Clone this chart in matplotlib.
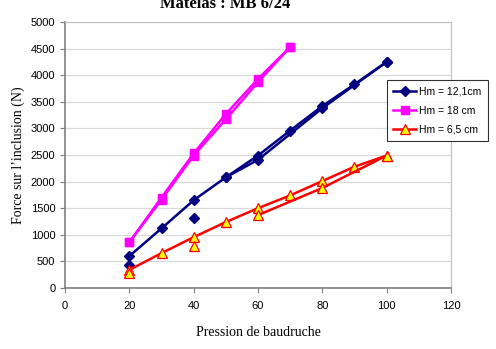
import matplotlib
matplotlib.use("Agg")
import numpy as np
import matplotlib.pyplot as plt

# Hm = 12,1 cm
hm12_up_x = [20, 30, 40, 50, 60, 70, 80, 90, 100]
hm12_up_y = [600, 1120, 1650, 2080, 2490, 2960, 3420, 3830, 4250]
hm12_down_x = [100, 80, 60, 50]
hm12_down_y = [4250, 3380, 2410, 2080]
hm12_pts_x = [40, 20]
hm12_pts_y = [1310, 430]

# Hm = 18 cm
hm18_up_x = [20, 30, 40, 50, 60, 70]
hm18_up_y = [860, 1700, 2530, 3270, 3930, 4530]
hm18_down_x = [70, 60, 50, 40, 30, 20]
hm18_down_y = [4530, 3870, 3170, 2490, 1660, 860]

# Hm = 6,5 cm
hm65_up_x = [20, 30, 40, 50, 60, 70, 80, 90, 100]
hm65_up_y = [340, 655, 955, 1240, 1500, 1740, 2010, 2280, 2490]
hm65_down_x = [100, 80, 60]
hm65_down_y = [2490, 1880, 1370]
hm65_pts_x = [40, 20]
hm65_pts_y = [790, 280]

labels = ["Hm = 12,1cm", "Hm = 18 cm", "Hm = 6,5 cm"]

W, H = 496, 349
fig = plt.figure(figsize=(W / 100, H / 100), dpi=100)
ax = fig.add_axes([65 / W, (H - 288) / H, (451 - 65) / W, (288 - 22) / H])

navy = "#000080"
mag = "#ff00ff"
red = "#ff0000"
sty12 = dict(color=navy, marker="D", markersize=5, lw=1.8)
sty18 = dict(color=mag, marker="s", markersize=6, lw=1.8)
sty65 = dict(color=red, marker="^", markersize=6.5, lw=1.8,
             markerfacecolor="#ffff00", markeredgecolor=red, markeredgewidth=0.9)

l12, = ax.plot(hm12_up_x, hm12_up_y, **sty12)
ax.plot(hm12_down_x, hm12_down_y, **sty12)
ax.plot(hm12_pts_x, hm12_pts_y, ls="none", **{k: v for k, v in sty12.items() if k != "lw"})
l18, = ax.plot(hm18_up_x, hm18_up_y, **sty18)
ax.plot(hm18_down_x, hm18_down_y, **sty18)
l65, = ax.plot(hm65_up_x, hm65_up_y, **sty65)
ax.plot(hm65_down_x, hm65_down_y, **sty65)
ax.plot(hm65_pts_x, hm65_pts_y, ls="none", **{k: v for k, v in sty65.items() if k != "lw"})

ax.set_xlim(0, 120)
ax.set_ylim(0, 5000)
ax.set_xticks(np.arange(0, 121, 20))
ax.set_yticks(np.arange(0, 5001, 500))
ax.grid(axis="y", color="#d9d9d9", lw=0.9)
ax.set_axisbelow(True)
for s in ("top", "right"):
    ax.spines[s].set_color("#c0c0c0")
for s in ("left", "bottom"):
    ax.spines[s].set_color("#808080")
    ax.spines[s].set_linewidth(1.2)
ax.tick_params(direction="out", length=3.5, color="#808080", labelsize=8,
               labelfontfamily="Liberation Sans")
ax.tick_params(axis="x", pad=6)

leg = ax.legend([l12, l18, l65], labels, loc="upper left",
                bbox_to_anchor=((387 - 65) / (451 - 65), (288 - 80) / (288 - 22)),
                prop={"family": "Liberation Sans", "size": 7.5},
                frameon=True, fancybox=False, edgecolor="#000000",
                handlelength=2.2, handletextpad=0.3, borderpad=0.6,
                labelspacing=0.9, borderaxespad=0)
leg.get_frame().set_linewidth(0.8)
leg.set_clip_on(False)

fig.text(225 / W, 1 - 8 / H, "Matelas : MB 6/24", ha="center", va="baseline",
         family="Liberation Serif", weight="bold", fontsize=12)
fig.text(258 / W, 1 - 333 / H, "Pression de baudruche", ha="center", va="center",
         family="Liberation Serif", fontsize=10)
fig.text(18 / W, 1 - 155 / H, "Force sur l\u2019inclusion (N)", ha="center",
         va="center", rotation=90, family="Liberation Serif", fontsize=10)

fig.savefig("out.png", dpi=100)
